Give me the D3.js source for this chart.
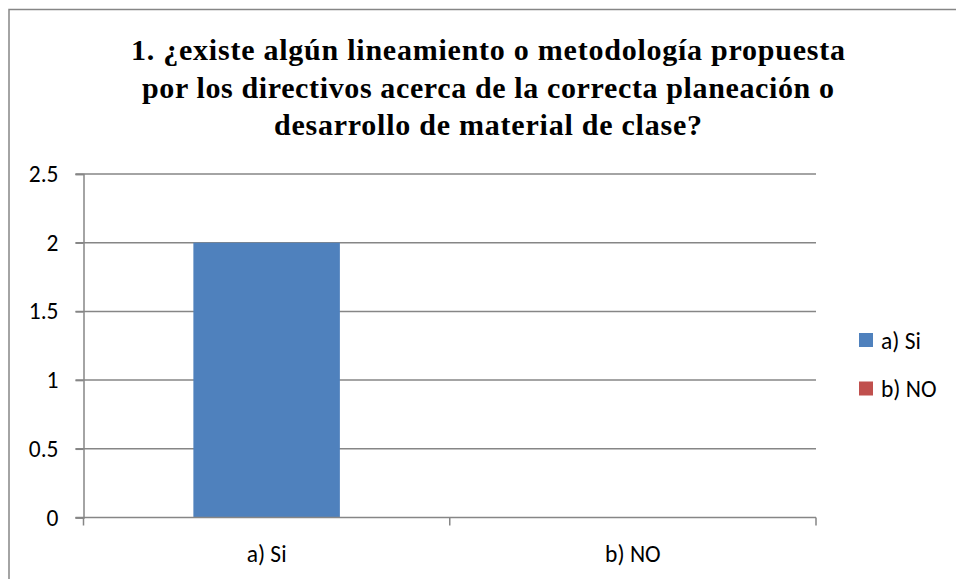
<!DOCTYPE html>
<html>
<head>
<meta charset="utf-8">
<script src="https://cdn.jsdelivr.net/npm/d3@7"></script>
<style>
  html, body { margin: 0; padding: 0; background: #fff; }
  svg { display: block; }
</style>
</head>
<body>
<svg id="chart" width="956" height="579"></svg>
<script>
// Survey answers for question 1
const categories = ["a) Si", "b) NO"];
const seriesNames = ["a) Si", "b) NO"];
const values = [2, 0];
const yTicks = [0, 0.5, 1, 1.5, 2, 2.5];
const titleLines = [
  "1. ¿existe algún lineamiento o metodología propuesta",
  "por los directivos acerca de la correcta planeación o",
  "desarrollo de material de clase?"
];
const colors = ["#4F81BD", "#C0504D"];

const svg = d3.select("#chart");
const axisColor = "#868686";
const labelFont = "Carlito, Lato, sans-serif";
const labelSize = 23.5;

// Outer chart frame
svg.append("rect")
  .attr("x", 9).attr("y", 9.5)
  .attr("width", 960).attr("height", 600)
  .attr("fill", "#fff")
  .attr("stroke", axisColor).attr("stroke-width", 1.5);

// Title, each line stretched to its set width
const titleWidths = [714, 692, 428];
const title = svg.append("g");
titleLines.forEach((line, i) => {
  title.append("text")
    .attr("x", 488).attr("y", 60 + i * 37.5)
    .attr("text-anchor", "middle")
    .attr("font-family", "Liberation Serif")
    .attr("font-weight", "bold")
    .attr("font-size", 30)
    .attr("textLength", titleWidths[i])
    .attr("lengthAdjust", "spacing")
    .attr("fill", "#000")
    .text(line);
});

// Plot area
const plot = { left: 83.5, right: 816, top: 174, bottom: 517.5 };

const x = d3.scaleBand()
  .domain(categories)
  .range([plot.left, plot.right]);

const y = d3.scaleLinear()
  .domain([0, 2.5])
  .range([plot.bottom, plot.top]);

// Horizontal gridlines
svg.append("g")
  .selectAll("line")
  .data(yTicks.filter(d => d > 0))
  .join("line")
  .attr("x1", plot.left - 8).attr("x2", plot.right)
  .attr("y1", d => y(d)).attr("y2", d => y(d))
  .attr("stroke", axisColor).attr("stroke-width", 1.5);

// Bars
const barW = x.bandwidth() * 0.4;
svg.append("g")
  .selectAll("rect")
  .data(categories.map((c, i) => ({ c, v: values[i], color: colors[i] })))
  .join("rect")
  .attr("x", d => x(d.c) + x.bandwidth() / 2 - barW / 2)
  .attr("y", d => y(d.v))
  .attr("width", barW)
  .attr("height", d => y(0) - y(d.v))
  .attr("fill", d => d.color);

// Y axis
const yAxis = svg.append("g")
  .attr("transform", `translate(${plot.left},0)`)
  .call(d3.axisLeft(y).tickValues(yTicks).tickSize(8).tickPadding(17)
    .tickFormat(d => String(d)));
yAxis.select(".domain").attr("stroke", axisColor).attr("stroke-width", 1.5);
yAxis.selectAll(".tick line").attr("stroke", axisColor).attr("stroke-width", 1.5);
yAxis.selectAll("text")
  .attr("font-family", labelFont).attr("font-size", labelSize).attr("fill", "#000");

// X axis with boundary ticks between categories
const xAxis = svg.append("g")
  .attr("transform", `translate(0,${plot.bottom})`);
xAxis.append("line")
  .attr("x1", plot.left - 8).attr("x2", plot.right)
  .attr("stroke", axisColor).attr("stroke-width", 1.5);
const bounds = categories.map(c => x(c)).concat([x(categories[categories.length - 1]) + x.bandwidth()]);
xAxis.selectAll("line.tk")
  .data(bounds)
  .join("line")
  .attr("class", "tk")
  .attr("x1", d => d).attr("x2", d => d)
  .attr("y1", 0).attr("y2", 8)
  .attr("stroke", axisColor).attr("stroke-width", 1.5);
xAxis.selectAll("text")
  .data(categories)
  .join("text")
  .attr("x", d => x(d) + x.bandwidth() / 2)
  .attr("y", 44)
  .attr("text-anchor", "middle")
  .attr("font-family", labelFont).attr("font-size", labelSize).attr("fill", "#000")
  .text(d => d);

// Legend
const legend = svg.append("g").attr("transform", "translate(859,333)");
seriesNames.forEach((name, i) => {
  const row = legend.append("g").attr("transform", `translate(0,${i * 48.5})`);
  row.append("rect")
    .attr("width", 14).attr("height", 14)
    .attr("fill", colors[i]);
  row.append("text")
    .attr("x", 22).attr("y", 15.5)
    .attr("font-family", labelFont).attr("font-size", labelSize).attr("fill", "#000")
    .text(name);
});
</script>
</body>
</html>
